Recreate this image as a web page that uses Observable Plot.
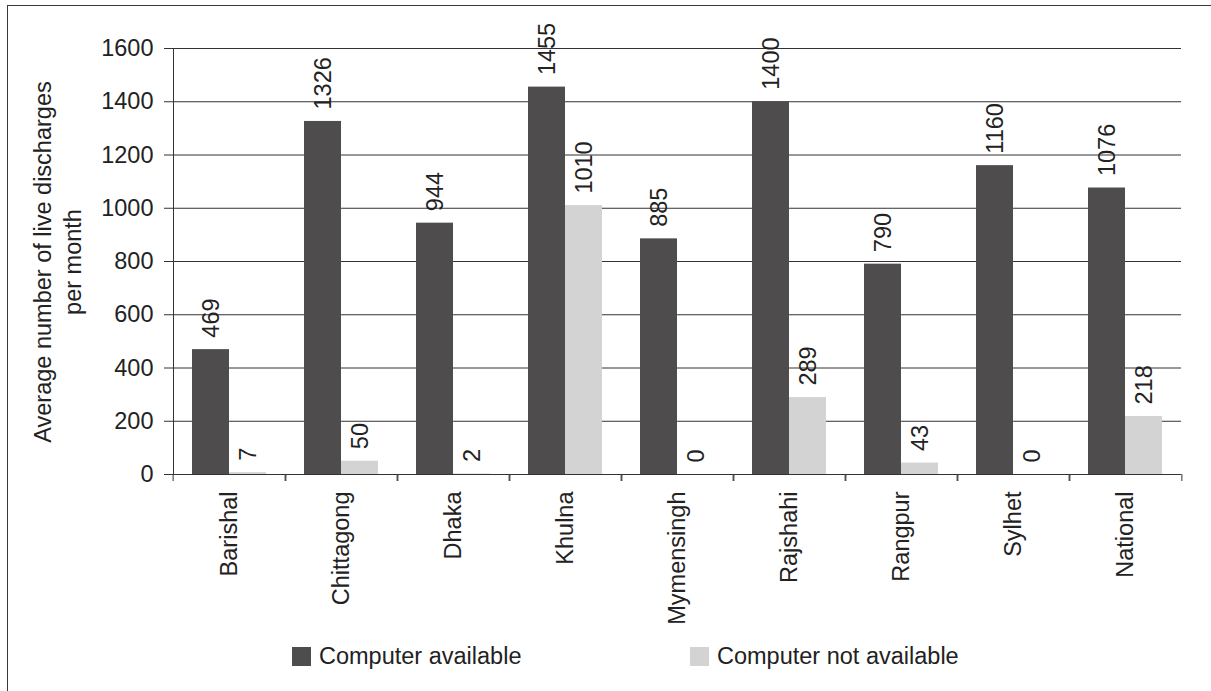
<!DOCTYPE html>
<html>
<head>
<meta charset="utf-8">
<script src="https://cdn.jsdelivr.net/npm/d3@7"></script>
<script src="https://cdn.jsdelivr.net/npm/@observablehq/plot@0.6"></script>
<style>
  html, body { margin: 0; padding: 0; background: #fff; }
  #page { position: relative; width: 1211px; height: 691px; overflow: hidden; font-family: "Liberation Sans", Arial, sans-serif; color: #222; }
  #border { position: absolute; left: 7px; top: 5px; width: 1400px; height: 900px; border-top: 1.5px solid #3a3a3a; border-left: 1.5px solid #3a3a3a; }
  #chart { position: absolute; left: 0; top: 0; }
  #ytitle { position: absolute; left: 58px; top: 262px; width: 480px; transform: translate(-50%, -50%) rotate(-90deg); text-align: center; font-size: 23.5px; line-height: 30px; }
  .leg { position: absolute; top: 647px; height: 19px; display: flex; align-items: center; font-size: 23.5px; white-space: nowrap; }
  .sw { width: 19px; height: 19px; margin-right: 8px; }
</style>
</head>
<body>
<div id="page">
  <div id="border"></div>
  <div id="chart"></div>
  <div id="ytitle">Average number of live discharges<br>per month</div>
  <div id="legend"></div>
</div>
<script>
const regions = ["Barishal", "Chittagong", "Dhaka", "Khulna", "Mymensingh", "Rajshahi", "Rangpur", "Sylhet", "National"];
const available = [469, 1326, 944, 1455, 885, 1400, 790, 1160, 1076];
const notAvailable = [7, 50, 2, 1010, 0, 289, 43, 0, 218];
const seriesNames = ["Computer available", "Computer not available"];
const seriesColors = ["#4e4c4d", "#d3d3d3"];
const yTicks = [0, 200, 400, 600, 800, 1000, 1200, 1400, 1600];

const data = regions.flatMap((r, i) => [
  {region: r, series: seriesNames[0], value: available[i]},
  {region: r, series: seriesNames[1], value: notAvailable[i]}
]);

const W = 1211, H = 630, ML = 169, MR = 27, MT = 48, MB = 156;
const bw = (W - ML - MR) / regions.length;
const ink = "#222";
const lineCol = "#333";
const FS = 23.5;

const chart = Plot.plot({
  width: W, height: H,
  marginLeft: ML, marginRight: MR, marginTop: MT, marginBottom: MB,
  style: {fontFamily: "'Liberation Sans', Arial, sans-serif", fontSize: FS + "px", color: ink, background: "transparent", overflow: "visible"},
  fx: {domain: regions, padding: 0, label: null, axis: null},
  x: {domain: seriesNames, paddingInner: 0, paddingOuter: 0.5, axis: null},
  y: {domain: [0, 1600], axis: null},
  color: {domain: seriesNames, range: seriesColors},
  marks: [
    Plot.gridY(yTicks, {stroke: lineCol, strokeOpacity: 1, strokeWidth: 1}),
    Plot.axisY(yTicks, {tickSize: 9, tickPadding: 11, tickFormat: d => String(d), label: null, fontSize: FS, stroke: lineCol, fill: ink}),
    Plot.barY(data, {fx: "region", x: "series", y: "value", fill: "series"}),
    Plot.text(data, {fx: "region", x: "series", y: "value", text: d => String(d.value), rotate: -90, textAnchor: "start", dy: -12, fontSize: FS, fill: ink}),
    Plot.axisFx({anchor: "bottom", tickRotate: -90, tickSize: 0, tickPadding: 17, label: null, fontSize: FS, fill: ink}),
    Plot.axisFx({anchor: "bottom", tickSize: 7, text: null, dx: -bw / 2, label: null, stroke: lineCol}),
    Plot.axisFx(regions.slice(-1), {anchor: "bottom", tickSize: 7, text: null, dx: bw / 2, label: null, stroke: lineCol}),
    Plot.ruleY([0], {stroke: lineCol}),
    Plot.frame({anchor: "left", stroke: lineCol, facetAnchor: "left"})
  ]
});
document.getElementById("chart").appendChild(chart);

const legend = document.getElementById("legend");
const legendLeft = [292, 690];
seriesNames.forEach((name, i) => {
  const item = document.createElement("div");
  item.className = "leg";
  item.style.left = legendLeft[i] + "px";
  const sw = document.createElement("div");
  sw.className = "sw";
  sw.style.background = seriesColors[i];
  const t = document.createElement("span");
  t.textContent = name;
  item.appendChild(sw);
  item.appendChild(t);
  legend.appendChild(item);
});
</script>
</body>
</html>
